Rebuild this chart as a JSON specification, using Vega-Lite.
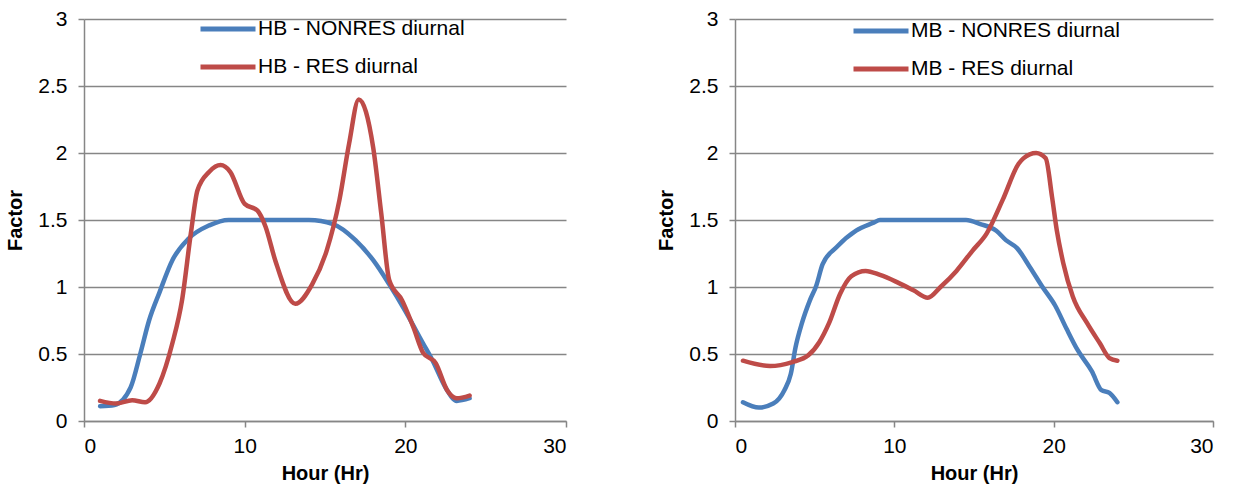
{
  "$schema": "https://vega.github.io/schema/vega-lite/v6.json",
  "background": "white",
  "padding": {"left": 5, "top": 8, "right": 5, "bottom": 5},
  "spacing": 89,
  "resolve": {"scale": {"color": "independent"}, "legend": {"color": "independent"}},
  "config": {
    "font": "Liberation Sans",
    "view": {"stroke": null},
    "axis": {
      "domainColor": "#868686", "tickColor": "#868686", "gridColor": "#868686",
      "domainWidth": 1.5, "tickWidth": 1.5, "gridWidth": 1.5, "tickSize": 6,
      "labelFont": "Liberation Sans", "labelFontSize": 21, "labelColor": "#000000",
      "titleFont": "Liberation Sans", "titleFontSize": 20, "titleFontWeight": "bold", "titleColor": "#000000"
    },
    "legend": {
      "labelFont": "Liberation Sans", "labelFontSize": 21, "labelColor": "#000000",
      "symbolType": "stroke", "symbolSize": 3025, "symbolStrokeWidth": 5,
      "labelOffset": 0, "rowPadding": 17, "clipHeight": 20, "labelLimit": 400
    }
  },
  "datasets": {
    "hb": [
      {"hour": 1, "factor": 0.11, "series": "HB - NONRES diurnal"},
      {"hour": 1.9, "factor": 0.12, "series": "HB - NONRES diurnal"},
      {"hour": 2.9, "factor": 0.25, "series": "HB - NONRES diurnal"},
      {"hour": 3.5, "factor": 0.5, "series": "HB - NONRES diurnal"},
      {"hour": 4.05, "factor": 0.75, "series": "HB - NONRES diurnal"},
      {"hour": 4.7, "factor": 0.96, "series": "HB - NONRES diurnal"},
      {"hour": 5.5, "factor": 1.2, "series": "HB - NONRES diurnal"},
      {"hour": 6.5, "factor": 1.36, "series": "HB - NONRES diurnal"},
      {"hour": 7.8, "factor": 1.46, "series": "HB - NONRES diurnal"},
      {"hour": 9, "factor": 1.5, "series": "HB - NONRES diurnal"},
      {"hour": 11, "factor": 1.5, "series": "HB - NONRES diurnal"},
      {"hour": 13.4, "factor": 1.5, "series": "HB - NONRES diurnal"},
      {"hour": 14, "factor": 1.5, "series": "HB - NONRES diurnal"},
      {"hour": 15.5, "factor": 1.47, "series": "HB - NONRES diurnal"},
      {"hour": 16.9, "factor": 1.35, "series": "HB - NONRES diurnal"},
      {"hour": 18, "factor": 1.2, "series": "HB - NONRES diurnal"},
      {"hour": 19, "factor": 1.02, "series": "HB - NONRES diurnal"},
      {"hour": 20, "factor": 0.82, "series": "HB - NONRES diurnal"},
      {"hour": 21.1, "factor": 0.58, "series": "HB - NONRES diurnal"},
      {"hour": 21.7, "factor": 0.45, "series": "HB - NONRES diurnal"},
      {"hour": 22.5, "factor": 0.25, "series": "HB - NONRES diurnal"},
      {"hour": 23.2, "factor": 0.15, "series": "HB - NONRES diurnal"},
      {"hour": 24, "factor": 0.17, "series": "HB - NONRES diurnal"},
      {"hour": 1, "factor": 0.15, "series": "HB - RES diurnal"},
      {"hour": 2, "factor": 0.13, "series": "HB - RES diurnal"},
      {"hour": 3, "factor": 0.155, "series": "HB - RES diurnal"},
      {"hour": 3.8, "factor": 0.14, "series": "HB - RES diurnal"},
      {"hour": 4.7, "factor": 0.28, "series": "HB - RES diurnal"},
      {"hour": 5.5, "factor": 0.58, "series": "HB - RES diurnal"},
      {"hour": 6.1, "factor": 0.9, "series": "HB - RES diurnal"},
      {"hour": 6.65, "factor": 1.4, "series": "HB - RES diurnal"},
      {"hour": 7.06, "factor": 1.72, "series": "HB - RES diurnal"},
      {"hour": 7.8, "factor": 1.86, "series": "HB - RES diurnal"},
      {"hour": 8.5, "factor": 1.91, "series": "HB - RES diurnal"},
      {"hour": 9.1, "factor": 1.86, "series": "HB - RES diurnal"},
      {"hour": 10, "factor": 1.62, "series": "HB - RES diurnal"},
      {"hour": 10.8, "factor": 1.57, "series": "HB - RES diurnal"},
      {"hour": 11.3, "factor": 1.45, "series": "HB - RES diurnal"},
      {"hour": 11.9, "factor": 1.2, "series": "HB - RES diurnal"},
      {"hour": 13.15, "factor": 0.875, "series": "HB - RES diurnal"},
      {"hour": 14.2, "factor": 1.02, "series": "HB - RES diurnal"},
      {"hour": 15.1, "factor": 1.27, "series": "HB - RES diurnal"},
      {"hour": 15.9, "factor": 1.65, "series": "HB - RES diurnal"},
      {"hour": 16.5, "factor": 2.07, "series": "HB - RES diurnal"},
      {"hour": 17.1, "factor": 2.4, "series": "HB - RES diurnal"},
      {"hour": 18, "factor": 2.04, "series": "HB - RES diurnal"},
      {"hour": 18.5, "factor": 1.55, "series": "HB - RES diurnal"},
      {"hour": 19, "factor": 1.05, "series": "HB - RES diurnal"},
      {"hour": 19.8, "factor": 0.9, "series": "HB - RES diurnal"},
      {"hour": 20.5, "factor": 0.7, "series": "HB - RES diurnal"},
      {"hour": 21.1, "factor": 0.51, "series": "HB - RES diurnal"},
      {"hour": 21.9, "factor": 0.43, "series": "HB - RES diurnal"},
      {"hour": 22.6, "factor": 0.23, "series": "HB - RES diurnal"},
      {"hour": 23.2, "factor": 0.17, "series": "HB - RES diurnal"},
      {"hour": 24, "factor": 0.19, "series": "HB - RES diurnal"}
    ],
    "mb": [
      {"hour": 0.5, "factor": 0.14, "series": "MB - NONRES diurnal"},
      {"hour": 1.5, "factor": 0.1, "series": "MB - NONRES diurnal"},
      {"hour": 2.4, "factor": 0.13, "series": "MB - NONRES diurnal"},
      {"hour": 3.1, "factor": 0.23, "series": "MB - NONRES diurnal"},
      {"hour": 3.5, "factor": 0.35, "series": "MB - NONRES diurnal"},
      {"hour": 3.8, "factor": 0.55, "series": "MB - NONRES diurnal"},
      {"hour": 4.2, "factor": 0.73, "series": "MB - NONRES diurnal"},
      {"hour": 4.7, "factor": 0.9, "series": "MB - NONRES diurnal"},
      {"hour": 5.1, "factor": 1.01, "series": "MB - NONRES diurnal"},
      {"hour": 5.5, "factor": 1.17, "series": "MB - NONRES diurnal"},
      {"hour": 6.4, "factor": 1.3, "series": "MB - NONRES diurnal"},
      {"hour": 7.6, "factor": 1.42, "series": "MB - NONRES diurnal"},
      {"hour": 8.7, "factor": 1.48, "series": "MB - NONRES diurnal"},
      {"hour": 9.1, "factor": 1.5, "series": "MB - NONRES diurnal"},
      {"hour": 12, "factor": 1.5, "series": "MB - NONRES diurnal"},
      {"hour": 14.5, "factor": 1.5, "series": "MB - NONRES diurnal"},
      {"hour": 15.4, "factor": 1.47, "series": "MB - NONRES diurnal"},
      {"hour": 16.4, "factor": 1.42, "series": "MB - NONRES diurnal"},
      {"hour": 17, "factor": 1.35, "series": "MB - NONRES diurnal"},
      {"hour": 17.7, "factor": 1.29, "series": "MB - NONRES diurnal"},
      {"hour": 18.5, "factor": 1.15, "series": "MB - NONRES diurnal"},
      {"hour": 19.3, "factor": 1.0, "series": "MB - NONRES diurnal"},
      {"hour": 20.1, "factor": 0.86, "series": "MB - NONRES diurnal"},
      {"hour": 20.8, "factor": 0.69, "series": "MB - NONRES diurnal"},
      {"hour": 21.5, "factor": 0.53, "series": "MB - NONRES diurnal"},
      {"hour": 22.4, "factor": 0.37, "series": "MB - NONRES diurnal"},
      {"hour": 23, "factor": 0.23, "series": "MB - NONRES diurnal"},
      {"hour": 23.5, "factor": 0.21, "series": "MB - NONRES diurnal"},
      {"hour": 24, "factor": 0.14, "series": "MB - NONRES diurnal"},
      {"hour": 0.5, "factor": 0.45, "series": "MB - RES diurnal"},
      {"hour": 2.2, "factor": 0.41, "series": "MB - RES diurnal"},
      {"hour": 3.6, "factor": 0.44, "series": "MB - RES diurnal"},
      {"hour": 4.6, "factor": 0.49, "series": "MB - RES diurnal"},
      {"hour": 5.3, "factor": 0.59, "series": "MB - RES diurnal"},
      {"hour": 5.9, "factor": 0.73, "series": "MB - RES diurnal"},
      {"hour": 6.6, "factor": 0.95, "series": "MB - RES diurnal"},
      {"hour": 7.3, "factor": 1.08, "series": "MB - RES diurnal"},
      {"hour": 8.2, "factor": 1.12, "series": "MB - RES diurnal"},
      {"hour": 9.1, "factor": 1.09, "series": "MB - RES diurnal"},
      {"hour": 10.1, "factor": 1.04, "series": "MB - RES diurnal"},
      {"hour": 11.2, "factor": 0.975, "series": "MB - RES diurnal"},
      {"hour": 12.1, "factor": 0.92, "series": "MB - RES diurnal"},
      {"hour": 12.9, "factor": 1.0, "series": "MB - RES diurnal"},
      {"hour": 13.9, "factor": 1.12, "series": "MB - RES diurnal"},
      {"hour": 14.9, "factor": 1.27, "series": "MB - RES diurnal"},
      {"hour": 15.8, "factor": 1.4, "series": "MB - RES diurnal"},
      {"hour": 16.8, "factor": 1.65, "series": "MB - RES diurnal"},
      {"hour": 17.8, "factor": 1.92, "series": "MB - RES diurnal"},
      {"hour": 18.1, "factor": 1.96, "series": "MB - RES diurnal"},
      {"hour": 18.9, "factor": 2.0, "series": "MB - RES diurnal"},
      {"hour": 19.5, "factor": 1.96, "series": "MB - RES diurnal"},
      {"hour": 19.9, "factor": 1.67, "series": "MB - RES diurnal"},
      {"hour": 20.2, "factor": 1.42, "series": "MB - RES diurnal"},
      {"hour": 20.6, "factor": 1.18, "series": "MB - RES diurnal"},
      {"hour": 21.2, "factor": 0.93, "series": "MB - RES diurnal"},
      {"hour": 22.1, "factor": 0.73, "series": "MB - RES diurnal"},
      {"hour": 22.9, "factor": 0.58, "series": "MB - RES diurnal"},
      {"hour": 23.5, "factor": 0.47, "series": "MB - RES diurnal"},
      {"hour": 24, "factor": 0.45, "series": "MB - RES diurnal"}
    ]
  },
  "hconcat": [
    {
      "width": 482,
      "height": 402,
      "data": {"name": "hb"},
      "mark": {"type": "line", "interpolate": "monotone", "strokeWidth": 4.5, "strokeCap": "round", "strokeJoin": "round"},
      "encoding": {
        "x": {"field": "hour", "type": "quantitative", "title": "Hour (Hr)",
              "scale": {"domain": [0, 30], "nice": false},
              "axis": {"values": [0, 10, 20, 30], "grid": false, "labelPadding": 8, "titlePadding": 7}},
        "y": {"field": "factor", "type": "quantitative", "title": "Factor",
              "scale": {"domain": [0, 3], "nice": false},
              "axis": {"values": [0, 0.5, 1, 1.5, 2, 2.5, 3], "format": "~g", "grid": true, "labelPadding": 11, "titlePadding": 12}},
        "color": {"field": "series", "type": "nominal",
                  "scale": {"domain": ["HB - NONRES diurnal", "HB - RES diurnal"], "range": ["#4A7EBB", "#BE4B48"]},
                  "legend": {"title": null, "orient": "none", "legendX": 114, "legendY": 0}}
      }
    },
    {
      "width": 478,
      "height": 402,
      "data": {"name": "mb"},
      "mark": {"type": "line", "interpolate": "monotone", "strokeWidth": 4.5, "strokeCap": "round", "strokeJoin": "round"},
      "encoding": {
        "x": {"field": "hour", "type": "quantitative", "title": "Hour (Hr)",
              "scale": {"domain": [0, 30], "nice": false},
              "axis": {"values": [0, 10, 20, 30], "grid": false, "labelPadding": 8, "titlePadding": 7}},
        "y": {"field": "factor", "type": "quantitative", "title": "Factor",
              "scale": {"domain": [0, 3], "nice": false},
              "axis": {"values": [0, 0.5, 1, 1.5, 2, 2.5, 3], "format": "~g", "grid": true, "labelPadding": 11, "titlePadding": 12}},
        "color": {"field": "series", "type": "nominal",
                  "scale": {"domain": ["MB - NONRES diurnal", "MB - RES diurnal"], "range": ["#4A7EBB", "#BE4B48"]},
                  "legend": {"title": null, "orient": "none", "legendX": 116, "legendY": 2}}
      }
    }
  ]
}
